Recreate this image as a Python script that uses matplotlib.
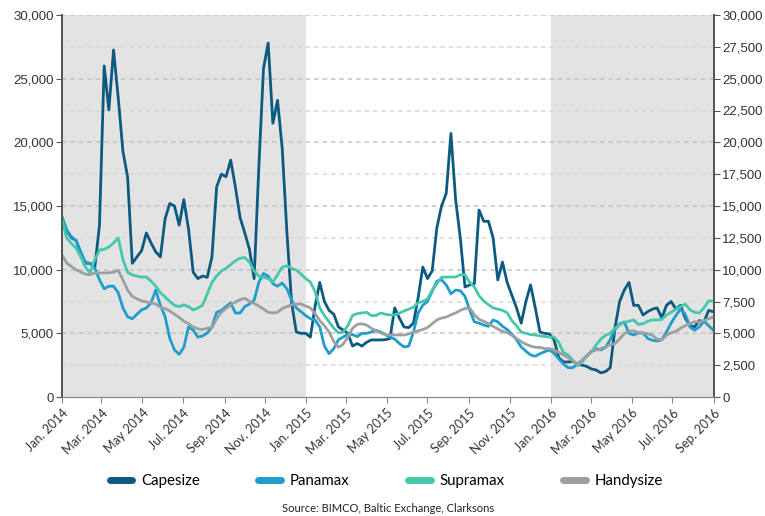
import matplotlib
matplotlib.use("Agg")
import matplotlib.pyplot as plt
import numpy as np
import pandas as pd
from matplotlib.lines import Line2D

# weekly time-charter earnings, USD/day
WEEKS = pd.date_range("2014-01-01", periods=140, freq="7D")

CAPESIZE = [
    14100, 13100, 12500, 12300, 11300, 10500, 10500, 10200, 13500, 26000,
    22540, 27250, 23500, 19300, 17280, 10500, 11000, 11500, 12880, 12100,
    11400, 11000, 14000, 15200, 15000, 13500, 15500, 13200, 9800, 9300,
    9500, 9400, 11000, 16500, 17500, 17300, 18600, 16500, 14100, 12900,
    11600, 9300, 18000, 25800, 27800, 21500, 23300, 19500, 12900, 7400,
    5100, 5000, 5000, 4700, 7100, 9000, 7500, 6800, 6500, 5500,
    5260, 5000, 4000, 4200, 4000, 4300, 4480, 4480, 4480, 4500,
    4600, 7000, 6200, 5500, 5450, 5800, 7800, 10200, 9300, 9900,
    13300, 15000, 16000, 20700, 15500, 12500, 8640, 8800, 8900, 14680,
    13800, 13800, 12500, 9200, 10600, 9000, 8000, 7000, 5800, 7500,
    8800, 7000, 5100, 5000, 4950, 4500, 3100, 2750, 2750, 2800,
    2600, 2500, 2400, 2200, 2120, 1900, 2000, 2300, 5400, 7500,
    8400, 9000, 7200, 7200, 6440, 6700, 6900, 7000, 6200, 7200,
    7500, 6900, 7200, 6200, 5600, 5500, 6000, 5900, 6800, 6700,
]

PANAMAX = [
    14150, 13100, 12600, 12300, 11400, 10600, 10500, 10100, 9200, 8500,
    8700, 8700, 8200, 7000, 6300, 6150, 6500, 6850, 6990, 7400,
    8400, 7200, 6300, 4600, 3700, 3350, 3900, 5500, 5260, 4700,
    4800, 5030, 5500, 6650, 6800, 7100, 7400, 6600, 6600, 7100,
    7300, 7600, 9000, 9700, 9500, 8900, 8700, 8950, 8500, 7600,
    7000, 6700, 6400, 6150, 6050, 5500, 4000, 3400, 3800, 4500,
    4700, 4950, 4900, 4750, 5000, 5000, 5100, 5250, 5100, 4900,
    4700, 4550, 4200, 3930, 4000, 5100, 6600, 7200, 7500, 8300,
    9100, 9200, 8800, 8100, 8400, 8350, 7900, 6830, 5900, 5800,
    5650, 5550, 6050, 5900, 5550, 5300, 4950, 4500, 3930, 3600,
    3300, 3200, 3400, 3550, 3690, 3450, 3000, 2600, 2300, 2300,
    2600, 2880, 3250, 3600, 3800, 3700, 3900, 4500, 5300, 5750,
    5890, 5000, 4870, 5030, 5030, 4600, 4450, 4400, 4480, 5100,
    5800, 6400, 6900, 6500, 5500, 5250, 5500, 5950, 5600, 5250,
]

SUPRAMAX = [
    13900, 12500, 12050, 11700, 11000, 10200, 9750, 10800, 11540, 11600,
    11780, 12100, 12500, 10800, 9800, 9580, 9500, 9420, 9420, 9100,
    8700, 8200, 7850, 7500, 7200, 7100, 7230, 7100, 6830, 7000,
    7200, 8100, 9000, 9500, 9900, 10100, 10400, 10700, 10900, 10950,
    10600, 9900, 9500, 9400, 9300, 9030, 9600, 10200, 10300, 10100,
    9970, 9650, 9300, 9030, 8300, 7000, 6400, 5900, 5400, 5030,
    5100, 5600, 6400, 6550, 6600, 6650, 6400, 6400, 6600, 6500,
    6440, 6440, 6600, 6750, 6900, 7050, 7400, 7500, 7700, 8400,
    8900, 9400, 9420, 9420, 9420, 9600, 9600, 9000, 8640, 7950,
    7550, 7250, 7000, 6900, 6800, 6620, 6000, 5600, 5100, 5000,
    4900, 4870, 4800, 4750, 4710, 4710, 4300, 3500, 3300, 2900,
    2450, 2750, 3200, 3550, 4100, 4550, 4850, 5000, 5400, 5650,
    5850, 5950, 6050, 5700, 5750, 5950, 6050, 6050, 6100, 6440,
    6650, 6900, 7100, 7300, 6850, 6650, 6600, 7000, 7540, 7540,
]

HANDYSIZE = [
    11150, 10520, 10250, 10000, 9810, 9650, 9600, 9740, 9740, 9740,
    9750, 9800, 9950, 9200, 8400, 7900, 7700, 7550, 7460, 7400,
    7300, 7050, 6950, 6750, 6500, 6250, 5950, 5750, 5500, 5350,
    5300, 5400, 5450, 6150, 6650, 6950, 7250, 7450, 7650, 7750,
    7500, 7350, 7150, 6900, 6650, 6600, 6650, 6950, 7100, 7230,
    7300, 7300, 7150, 6990, 6550, 6000, 5600, 5100, 4350, 3900,
    4150, 4700, 5400, 5700, 5750, 5650, 5400, 5200, 5030, 4900,
    4870, 4870, 4870, 4870, 4950, 5100, 5200, 5300, 5450, 5750,
    6050, 6200, 6280, 6450, 6600, 6800, 6950, 6990, 6450, 6100,
    5950, 5750, 5550, 5350, 5150, 5050, 4850, 4600, 4350, 4150,
    4000, 3900, 3900, 3800, 3800, 3700, 3500, 3300, 3100, 2850,
    2600, 2850, 3200, 3550, 3690, 3800, 3950, 4100, 4200, 4550,
    5000, 5150, 5200, 5030, 5030, 4980, 4850, 4550, 4480, 4850,
    5050, 5150, 5400, 5600, 5750, 5900, 5890, 6000, 6150, 6280,
]

SERIES = ["Capesize", "Panamax", "Supramax", "Handysize"]
COLORS = ["#0c5a80", "#1f9dcb", "#45c8a9", "#9ba1a1"]

TICK_DATES = pd.date_range("2014-01-01", "2016-09-01", freq="2MS")
TICK_LABELS = ["Jan. 2014", "Mar. 2014", "May 2014", "Jul. 2014", "Sep. 2014", "Nov. 2014",
               "Jan. 2015", "Mar. 2015", "May 2015", "Jul. 2015", "Sep. 2015", "Nov. 2015",
               "Jan. 2016", "Mar. 2016", "May 2016", "Jul. 2016", "Sep. 2016"]

SHADED = [("2014-01-01", "2015-01-01"), ("2016-01-01", "2016-09-01")]

fig = plt.figure(figsize=(7.65, 5.16), dpi=100)
ax = fig.add_axes([62 / 765, 1 - 397 / 516, (714 - 62) / 765, (397 - 15) / 516])

for start, end in SHADED:
    ax.axvspan(pd.Timestamp(start), pd.Timestamp(end), color="#e3e3e3", lw=0, zorder=0)

# dashed grid every 2,500 (lighter on the in-between lines)
for y in range(2500, 30001, 2500):
    col = "#c4c4c4" if y % 5000 == 0 else "#dadada"
    ax.axhline(y, color=col, lw=1.1, ls=(0, (3, 2.5)), zorder=1)

data = [CAPESIZE, PANAMAX, SUPRAMAX, HANDYSIZE]
for name, vals, col in zip(SERIES, data, COLORS):
    ax.plot(WEEKS, vals, color=col, lw=2.0, label=name, zorder=3,
            solid_joinstyle="round")

ax.set_xlim(pd.Timestamp("2014-01-01"), pd.Timestamp("2016-09-01"))
ax.set_ylim(0, 30000)
ax.set_yticks(range(0, 30001, 5000))
ax.set_yticklabels([f"{v:,}" for v in range(0, 30001, 5000)],
                   fontsize=9.5, family="Liberation Sans", color="#333333")
ax.set_xticks(TICK_DATES)
ax.set_xticklabels(TICK_LABELS, rotation=45, ha="right", rotation_mode="anchor",
                   fontsize=9, family="Lato", color="#333333")
ax.tick_params(axis="x", length=4, color="#888888", pad=3)
ax.tick_params(axis="y", length=4, color="#555555", pad=2)

ax2 = ax.twinx()
ax2.set_ylim(0, 30000)
ax2.set_yticks(range(0, 30001, 2500))
ax2.set_yticklabels([f"{v:,}" for v in range(0, 30001, 2500)],
                    fontsize=9.5, family="Liberation Sans", color="#333333")
ax2.tick_params(axis="y", length=4, color="#555555", pad=2)

for a in (ax, ax2):
    a.spines["top"].set_visible(False)
    a.spines["bottom"].set_color("#888888")
    a.spines["left"].set_color("#555555")
    a.spines["right"].set_color("#555555")
    a.spines["left"].set_linewidth(1.3)
    a.spines["right"].set_linewidth(1.3)

handles = [Line2D([0], [0], color=c, lw=5, solid_capstyle="round") for c in COLORS]
fig.legend(handles, SERIES, loc="center", bbox_to_anchor=(0.505, 1 - 481 / 516),
           ncol=4, frameon=False, handlelength=1.5, columnspacing=3.9,
           handletextpad=0.6, prop={"family": "Lato", "size": 10.8})

fig.text(0.507, 1 - 508 / 516, "Source: BIMCO, Baltic Exchange, Clarksons",
         ha="center", va="center", fontsize=8, family="Lato", color="#222222")

fig.savefig("out.png", dpi=100)
